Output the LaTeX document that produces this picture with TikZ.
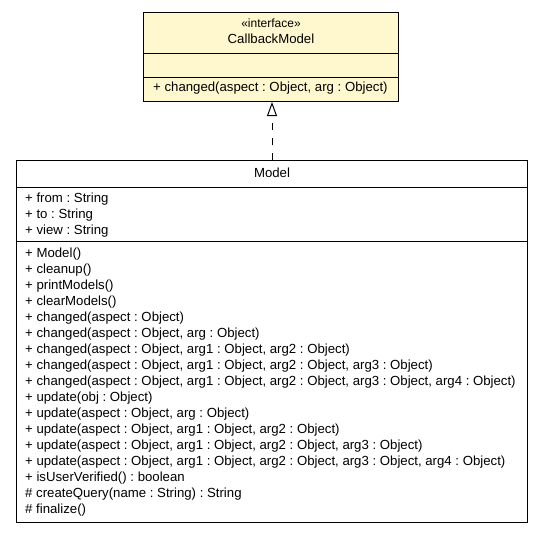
\documentclass[tikz,border=0pt]{standalone}
\usepackage{fontspec}
\setmainfont{Liberation Sans}
\usetikzlibrary{arrows.meta}
\definecolor{ifacefill}{RGB}{255,248,206}
\frenchspacing
\tikzset{
  classbox/.style={draw, line width=1pt, inner sep=0pt, anchor=north west},
  member/.style={anchor=base west, inner sep=0pt, font=\fontsize{13.2}{16}\selectfont},
  classname/.style={anchor=base, inner sep=0pt, font=\fontsize{13.2}{16}\selectfont},
  realize/.style={line width=1pt, dash pattern=on 7pt off 8pt,
    -{Triangle[open, length=14pt, width=10pt, fill=white]}}
}
\begin{document}
\begin{tikzpicture}[x=1pt,y=-1pt]
\useasboundingbox (0,0) rectangle (541,533);

% interface
\node[classbox, fill=ifacefill, minimum width=255pt, minimum height=89pt] (cbbox) at (143,12) {};
\draw[line width=1pt] (cbbox.west |- 0,53) -- (cbbox.east |- 0,53);
\draw[line width=1pt] (cbbox.west |- 0,77) -- (cbbox.east |- 0,77);
\node[classname] (cbstereo) at (cbbox.north |- 0,27) {\fontsize{12}{14}\selectfont «interface»};
\node[classname] (cbname) at (cbbox.north |- 0,43) {CallbackModel};
\node[member] (cbop) at (153,91) {+ changed(aspect : Object, arg : Object)};

% class
\node[classbox, minimum width=511pt, minimum height=362pt] (mbox) at (16,160) {};
\draw[line width=1pt] (mbox.west |- 0,187) -- (mbox.east |- 0,187);
\draw[line width=1pt] (mbox.west |- 0,241) -- (mbox.east |- 0,241);
\node[classname] (mname) at (mbox.north |- 0,177) {Model};
\foreach \attr [count=\i] in {{+ from : String},{+ to : String},{+ view : String}}
  \node[member] (attr\i) at (25,{186+16*\i}) {\attr};
\foreach \op [count=\i] in {
  {+ Model()},
  {+ cleanup()},
  {+ printModels()},
  {+ clearModels()},
  {+ changed(aspect : Object)},
  {+ changed(aspect : Object, arg : Object)},
  {+ changed(aspect : Object, arg1 : Object, arg2 : Object)},
  {+ changed(aspect : Object, arg1 : Object, arg2 : Object, arg3 : Object)},
  {+ changed(aspect : Object, arg1 : Object, arg2 : Object, arg3 : Object, arg4 : Object)},
  {+ update(obj : Object)},
  {+ update(aspect : Object, arg : Object)},
  {+ update(aspect : Object, arg1 : Object, arg2 : Object)},
  {+ update(aspect : Object, arg1 : Object, arg2 : Object, arg3 : Object)},
  {+ update(aspect : Object, arg1 : Object, arg2 : Object, arg3 : Object, arg4 : Object)},
  {+ isUserVerified() : boolean},
  {\# createQuery(name : String) : String},
  {\# finalize()}}
  \node[member] (op\i) at (25,{241+16*\i}) {\op};

% realization
\draw[realize] (mbox.north) -- (mbox.north |- cbbox.south);
\end{tikzpicture}
\end{document}
